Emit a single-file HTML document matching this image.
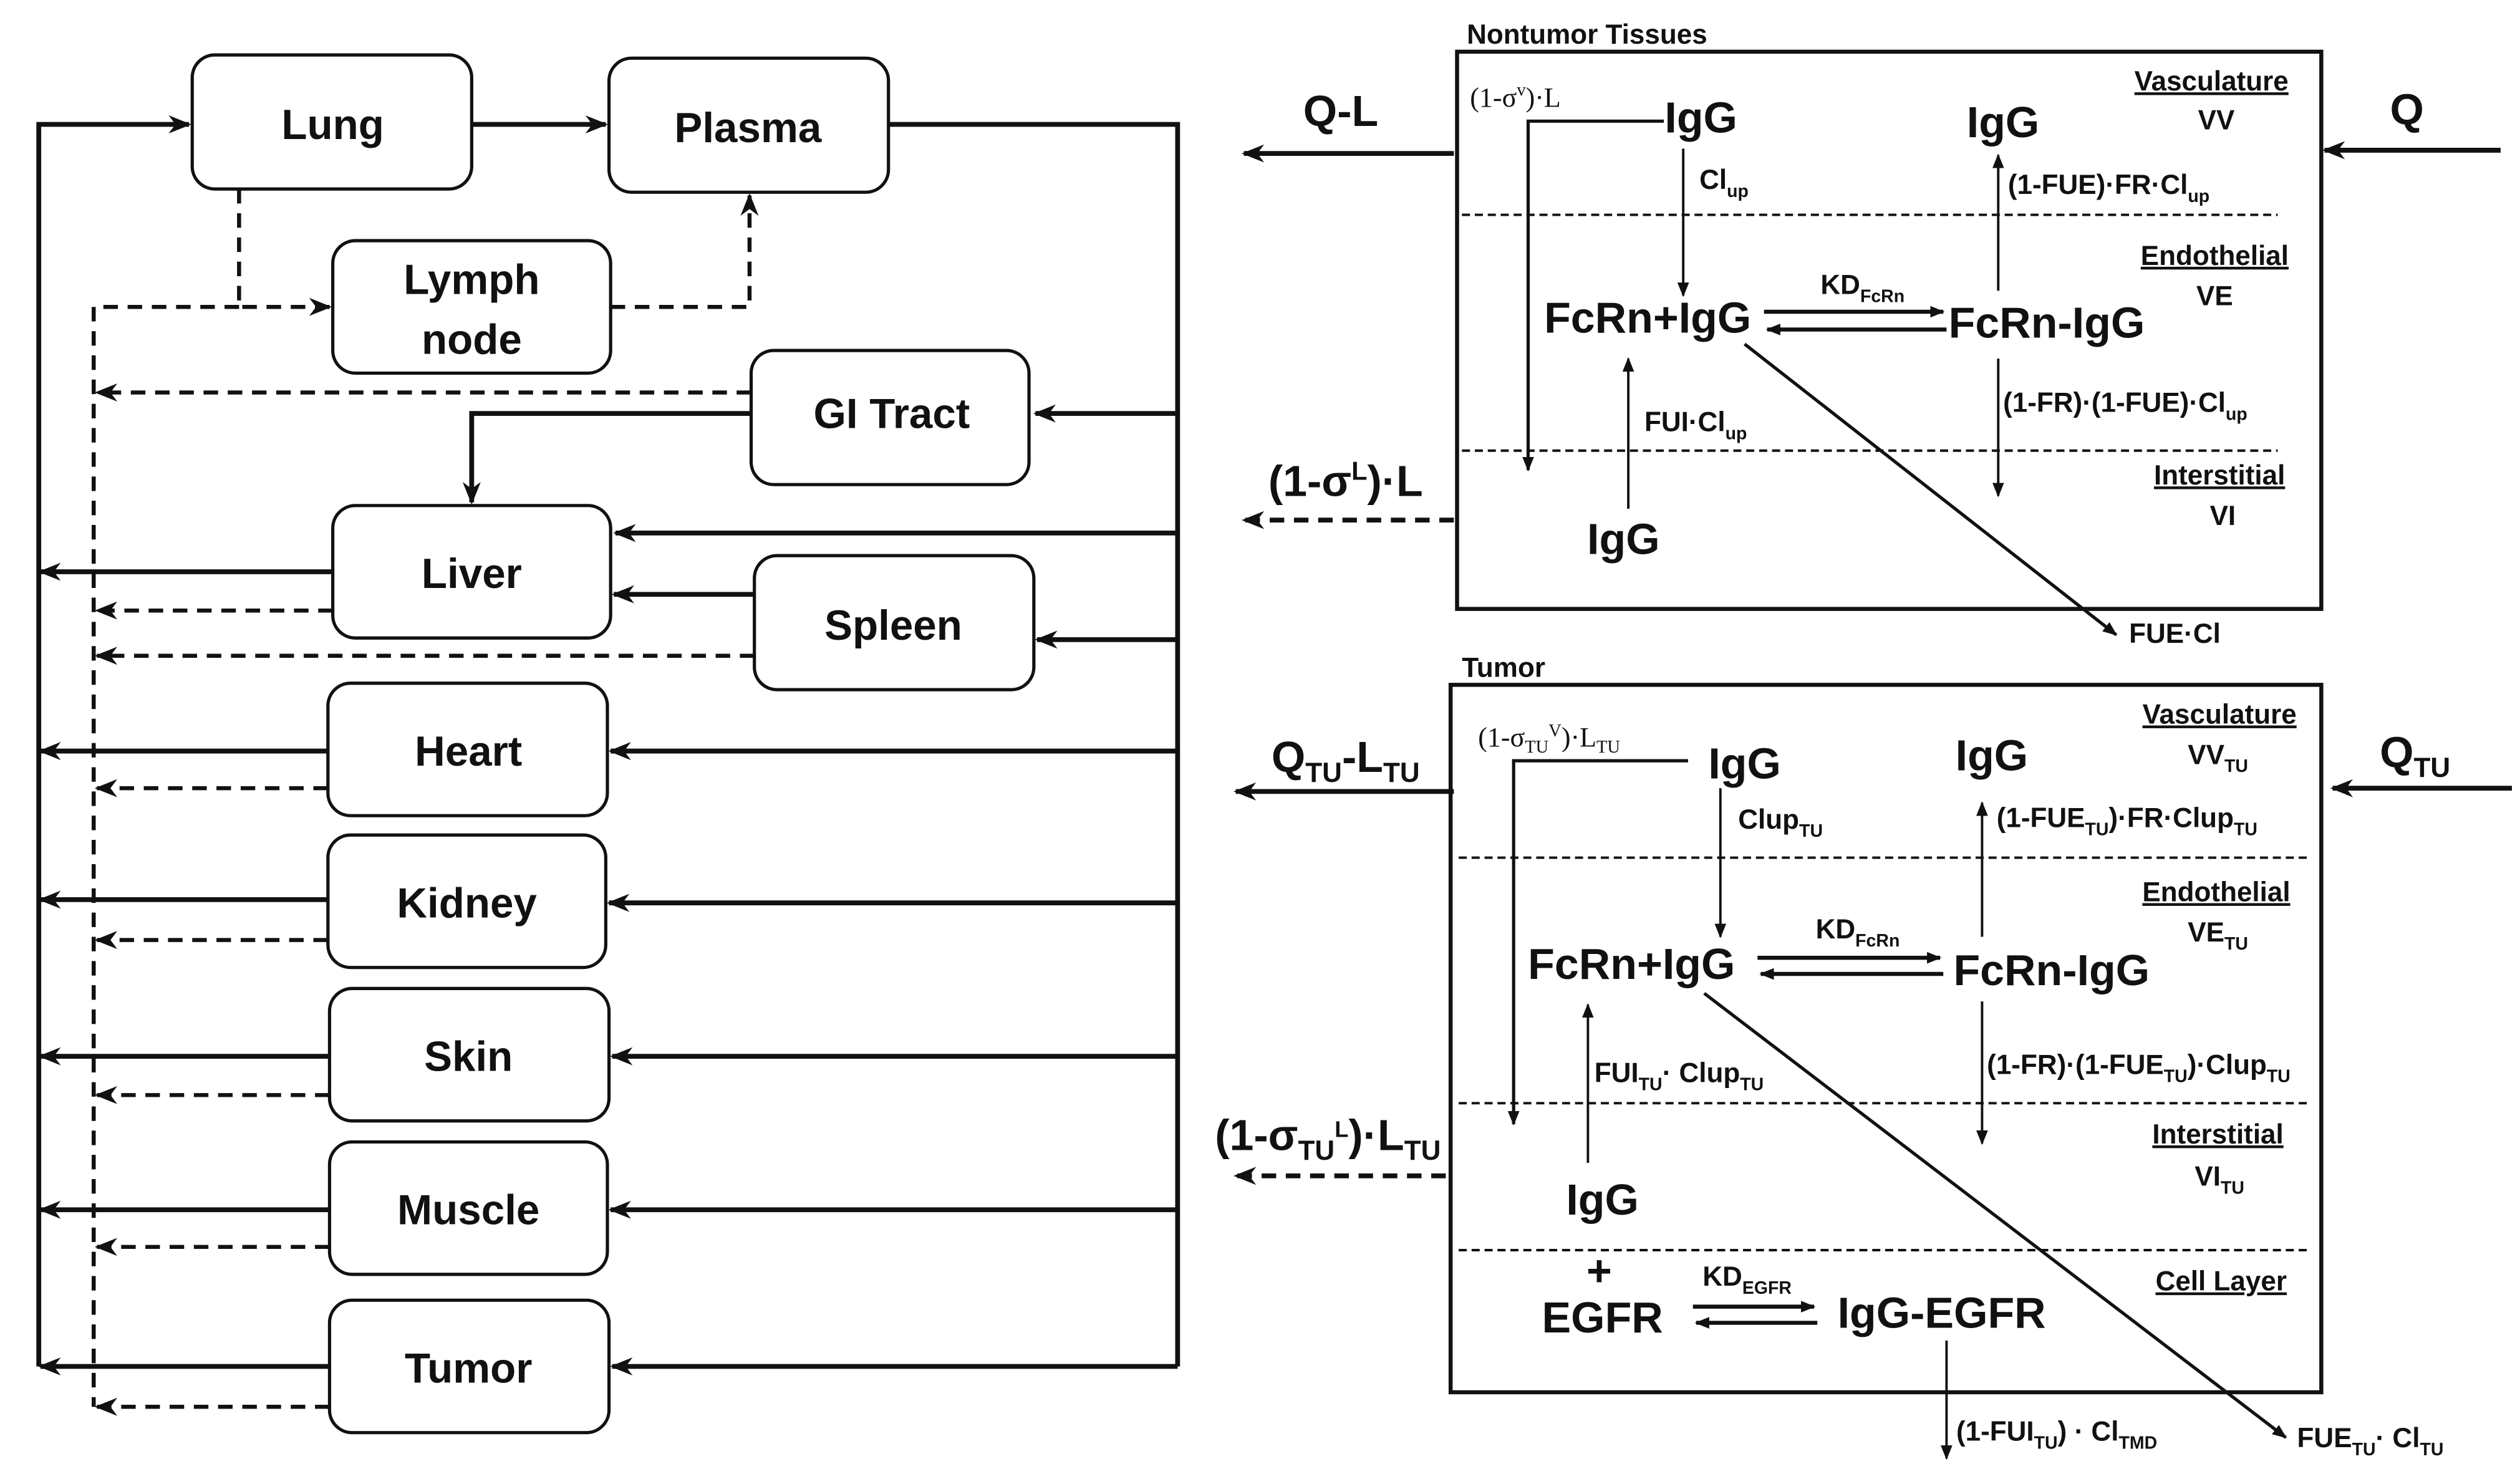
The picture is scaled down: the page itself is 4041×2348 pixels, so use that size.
<!DOCTYPE html>
<html><head><meta charset="utf-8"><style>
html,body{margin:0;padding:0;background:#fff}
svg{display:block}
text{font-family:"Liberation Sans Narrow","Liberation Sans",sans-serif;font-weight:bold;fill:#111}
.n{font-size:26px;text-anchor:middle}
.b{font-size:27px;text-anchor:middle}
.s{font-size:17px}
.r{font-size:17px;text-anchor:middle}
.serif{font-family:"Liberation Serif",serif;font-weight:normal}
</style></head><body>
<svg width="4041" height="2348" viewBox="0 0 1560 906.4" xmlns="http://www.w3.org/2000/svg">
<defs>
<marker id="a" viewBox="0 0 10 10" refX="9" refY="5" markerWidth="5" markerHeight="5" orient="auto-start-reverse" markerUnits="userSpaceOnUse"><path d="M0,0 L10,5 L0,10 z" fill="#111"/></marker>
<marker id="ab" viewBox="0 0 10 10" refX="9" refY="5" markerWidth="14" markerHeight="14" orient="auto" markerUnits="userSpaceOnUse"><path d="M0,1 L10,5 L0,9 L3,5 z" fill="#111"/></marker>
<marker id="as" viewBox="0 0 10 10" refX="9" refY="5" markerWidth="9" markerHeight="9" orient="auto" markerUnits="userSpaceOnUse"><path d="M0,1 L10,5 L0,9 z" fill="#111"/></marker>
</defs>
<g fill="#fff" stroke="#111" stroke-width="2">
<rect x="119" y="34" width="173" height="83" rx="14"/>
<rect x="377" y="36" width="173" height="83" rx="14"/>
<rect x="206" y="149" width="172" height="82" rx="14"/>
<rect x="465" y="217" width="172" height="83" rx="14"/>
<rect x="206" y="313" width="172" height="82" rx="14"/>
<rect x="467" y="344" width="173" height="83" rx="14"/>
<rect x="203" y="423" width="173" height="82" rx="14"/>
<rect x="203" y="517" width="172" height="82" rx="14"/>
<rect x="204" y="612" width="173" height="82" rx="14"/>
<rect x="204" y="707" width="172" height="82" rx="14"/>
<rect x="204" y="805" width="173" height="82" rx="14"/>
</g>
<g class="n">
<text x="206" y="86" class="n">Lung</text>
<text x="463" y="88" class="n">Plasma</text>
<text x="292" y="182" class="n">Lymph</text>
<text x="292" y="219" class="n">node</text>
<text x="552" y="265" class="n">GI Tract</text>
<text x="292" y="364" class="n">Liver</text>
<text x="553" y="396" class="n">Spleen</text>
<text x="290" y="474" class="n">Heart</text>
<text x="289" y="568" class="n">Kidney</text>
<text x="290" y="663" class="n">Skin</text>
<text x="290" y="758" class="n">Muscle</text>
<text x="290" y="856" class="n">Tumor</text>
</g>
<g stroke="#111" stroke-width="3" fill="none">
<line x1="292" y1="77" x2="375" y2="77" marker-end="url(#ab)"/>
<polyline points="550,77 729,77 729,846"/>
<line x1="729" y1="256" x2="641" y2="256" marker-end="url(#ab)"/>
<line x1="729" y1="330" x2="381" y2="330" marker-end="url(#ab)"/>
<line x1="729" y1="396" x2="642" y2="396" marker-end="url(#ab)"/>
<line x1="729" y1="465" x2="378" y2="465" marker-end="url(#ab)"/>
<line x1="729" y1="559" x2="377" y2="559" marker-end="url(#ab)"/>
<line x1="729" y1="654" x2="379" y2="654" marker-end="url(#ab)"/>
<line x1="729" y1="749" x2="378" y2="749" marker-end="url(#ab)"/>
<line x1="729" y1="846" x2="379" y2="846" marker-end="url(#ab)"/>
<line x1="467" y1="368" x2="380" y2="368" marker-end="url(#ab)"/>
<polyline points="465,256 292,256 292,311" marker-end="url(#ab)"/>
<polyline points="24,846 24,77 117,77" marker-end="url(#ab)"/>
<line x1="206" y1="354" x2="25" y2="354" marker-end="url(#ab)"/>
<line x1="203" y1="465" x2="25" y2="465" marker-end="url(#ab)"/>
<line x1="203" y1="557" x2="25" y2="557" marker-end="url(#ab)"/>
<line x1="204" y1="654" x2="25" y2="654" marker-end="url(#ab)"/>
<line x1="204" y1="749" x2="25" y2="749" marker-end="url(#ab)"/>
<line x1="204" y1="846" x2="25" y2="846" marker-end="url(#ab)"/>
</g>
<g stroke="#111" stroke-width="2.5" fill="none" stroke-dasharray="9,6">
<polyline points="148,117 148,190 204,190" marker-end="url(#ab)"/>
<polyline points="378,190 464,190 464,121" marker-end="url(#ab)"/>
<line x1="58" y1="190" x2="58" y2="871"/>
<line x1="148" y1="190" x2="58" y2="190"/>
<line x1="465" y1="243" x2="60" y2="243" marker-end="url(#ab)"/>
<line x1="206" y1="378" x2="60" y2="378" marker-end="url(#ab)"/>
<line x1="467" y1="406" x2="60" y2="406" marker-end="url(#ab)"/>
<line x1="203" y1="488" x2="60" y2="488" marker-end="url(#ab)"/>
<line x1="203" y1="582" x2="60" y2="582" marker-end="url(#ab)"/>
<line x1="204" y1="678" x2="60" y2="678" marker-end="url(#ab)"/>
<line x1="204" y1="772" x2="60" y2="772" marker-end="url(#ab)"/>
<line x1="204" y1="871" x2="60" y2="871" marker-end="url(#ab)"/>
</g>

<!-- Nontumor -->
<text x="908" y="27" class="s">Nontumor Tissues</text>
<rect x="902" y="32" width="535" height="345" fill="none" stroke="#111" stroke-width="2.5"/>
<g stroke="#111" stroke-width="1.5" stroke-dasharray="5,3"><line x1="905" y1="133" x2="1410" y2="133"/><line x1="905" y1="279" x2="1410" y2="279"/></g>
<g class="r">
<text x="1369" y="56" class="r" text-decoration="underline">Vasculature</text><text x="1372" y="80" class="r">VV</text>
<text x="1371" y="164" class="r" text-decoration="underline">Endothelial</text><text x="1371" y="189" class="r">VE</text>
<text x="1374" y="300" class="r" text-decoration="underline">Interstitial</text><text x="1376" y="325" class="r">VI</text>
</g>
<g stroke="#111" stroke-width="3" fill="none">
<line x1="900" y1="95" x2="770" y2="95" marker-end="url(#ab)"/>
<line x1="1548" y1="93" x2="1439" y2="93" marker-end="url(#ab)"/>
<line x1="900" y1="322" x2="770" y2="322" marker-end="url(#ab)" stroke-dasharray="9,6"/>
<line x1="900" y1="490" x2="765" y2="490" marker-end="url(#ab)"/>
<line x1="1555" y1="488" x2="1444" y2="488" marker-end="url(#ab)"/>
<line x1="895" y1="728" x2="765" y2="728" marker-end="url(#ab)" stroke-dasharray="9,6"/>
</g>
<text x="830" y="78" class="b">Q-L</text>
<text x="1490" y="77" class="b">Q</text>
<text x="833" y="307" class="b">(1-σ<tspan font-size="16" dy="-10">L</tspan><tspan dy="10">)·L</tspan></text>
<text x="910" y="66" class="s serif">(1-σ<tspan font-size="11" dy="-7">v</tspan><tspan dy="7">)·L</tspan></text>
<g stroke="#111" fill="none">
<polyline points="1030,75 946,75 946,291" stroke-width="2" marker-end="url(#as)"/>
<line x1="1042" y1="92" x2="1042" y2="183" stroke-width="1.5" marker-end="url(#as)"/>
<line x1="1237" y1="180" x2="1237" y2="96" stroke-width="1.5" marker-end="url(#as)"/>
<line x1="1237" y1="222" x2="1237" y2="307" stroke-width="1.5" marker-end="url(#as)"/>
<line x1="1008" y1="315" x2="1008" y2="222" stroke-width="1.5" marker-end="url(#as)"/>
<line x1="1092" y1="193" x2="1203" y2="193" stroke-width="2.5" marker-end="url(#as)"/>
<line x1="1205" y1="204" x2="1094" y2="204" stroke-width="2.5" marker-end="url(#as)"/>
<line x1="1080" y1="213" x2="1310" y2="393" stroke-width="2" marker-end="url(#as)"/>
</g>
<text x="1053" y="82" class="b">IgG</text>
<text x="1240" y="85" class="b">IgG</text>
<text x="1052" y="117" class="s">Cl<tspan font-size="11" dy="5">up</tspan></text>
<text x="1020" y="206" class="b">FcRn+IgG</text>
<text x="1267" y="209" class="b">FcRn-IgG</text>
<text x="1127" y="182" class="s">KD<tspan font-size="11" dy="5">FcRn</tspan></text>
<text x="1243" y="120" class="s">(1-FUE)·FR·Cl<tspan font-size="11" dy="5">up</tspan></text>
<text x="1240" y="255" class="s">(1-FR)·(1-FUE)·Cl<tspan font-size="11" dy="5">up</tspan></text>
<text x="1018" y="267" class="s">FUI·Cl<tspan font-size="11" dy="5">up</tspan></text>
<text x="1005" y="343" class="b">IgG</text>
<text x="1318" y="398" class="s">FUE·Cl</text>

<!-- Tumor -->
<text x="905" y="419" class="s">Tumor</text>
<rect x="898" y="424" width="539" height="438" fill="none" stroke="#111" stroke-width="2.5"/>
<g stroke="#111" stroke-width="1.5" stroke-dasharray="5,3"><line x1="903" y1="531" x2="1430" y2="531"/><line x1="903" y1="683" x2="1430" y2="683"/><line x1="903" y1="774" x2="1430" y2="774"/></g>
<g class="r">
<text x="1374" y="448" class="r" text-decoration="underline">Vasculature</text><text x="1373" y="473" class="r">VV<tspan font-size="11" dy="5">TU</tspan></text>
<text x="1372" y="558" class="r" text-decoration="underline">Endothelial</text><text x="1373" y="583" class="r">VE<tspan font-size="11" dy="5">TU</tspan></text>
<text x="1373" y="708" class="r" text-decoration="underline">Interstitial</text><text x="1374" y="734" class="r">VI<tspan font-size="11" dy="5">TU</tspan></text>
<text x="1375" y="799" class="r" text-decoration="underline">Cell Layer</text>
</g>
<text x="833" y="478" class="b">Q<tspan font-size="17" dy="6">TU</tspan><tspan dy="-6">-L</tspan><tspan font-size="17" dy="6">TU</tspan></text>
<text x="1495" y="475" class="b">Q<tspan font-size="17" dy="6">TU</tspan></text>
<text x="822" y="712" class="b">(1-σ<tspan font-size="17" dy="6">TU</tspan><tspan font-size="14" dy="-14">L</tspan><tspan dy="8">)·L</tspan><tspan font-size="17" dy="6">TU</tspan></text>
<text x="915" y="462" class="s serif">(1-σ<tspan font-size="11" dy="4">TU</tspan><tspan font-size="11" dy="-10">V</tspan><tspan dy="6">)·L</tspan><tspan font-size="11" dy="4">TU</tspan></text>
<g stroke="#111" fill="none">
<polyline points="1045,471 937,471 937,696" stroke-width="2" marker-end="url(#as)"/>
<line x1="1065" y1="488" x2="1065" y2="580" stroke-width="1.5" marker-end="url(#as)"/>
<line x1="1227" y1="580" x2="1227" y2="497" stroke-width="1.5" marker-end="url(#as)"/>
<line x1="1227" y1="620" x2="1227" y2="708" stroke-width="1.5" marker-end="url(#as)"/>
<line x1="983" y1="720" x2="983" y2="622" stroke-width="1.5" marker-end="url(#as)"/>
<line x1="1088" y1="593" x2="1201" y2="593" stroke-width="2.5" marker-end="url(#as)"/>
<line x1="1203" y1="603" x2="1090" y2="603" stroke-width="2.5" marker-end="url(#as)"/>
<line x1="1048" y1="809" x2="1123" y2="809" stroke-width="2.5" marker-end="url(#as)"/>
<line x1="1125" y1="819" x2="1050" y2="819" stroke-width="2.5" marker-end="url(#as)"/>
<line x1="1205" y1="830" x2="1205" y2="903" stroke-width="1.5" marker-end="url(#as)"/>
<line x1="1055" y1="615" x2="1415" y2="890" stroke-width="2" marker-end="url(#as)"/>
</g>
<text x="1080" y="482" class="b">IgG</text>
<text x="1233" y="477" class="b">IgG</text>
<text x="1076" y="513" class="s">Clup<tspan font-size="11" dy="5">TU</tspan></text>
<text x="1010" y="606" class="b">FcRn+IgG</text>
<text x="1270" y="610" class="b">FcRn-IgG</text>
<text x="1124" y="581" class="s">KD<tspan font-size="11" dy="5">FcRn</tspan></text>
<text x="1236" y="512" class="s">(1-FUE<tspan font-size="11" dy="5">TU</tspan><tspan dy="-5">)·FR·Clup</tspan><tspan font-size="11" dy="5">TU</tspan></text>
<text x="1230" y="665" class="s">(1-FR)·(1-FUE<tspan font-size="11" dy="5">TU</tspan><tspan dy="-5">)·Clup</tspan><tspan font-size="11" dy="5">TU</tspan></text>
<text x="987" y="670" class="s">FUI<tspan font-size="11" dy="5">TU</tspan><tspan dy="-5">· Clup</tspan><tspan font-size="11" dy="5">TU</tspan></text>
<text x="992" y="752" class="b">IgG</text>
<text x="990" y="796" class="b">+</text>
<text x="992" y="825" class="b">EGFR</text>
<text x="1054" y="796" class="s">KD<tspan font-size="11" dy="5">EGFR</tspan></text>
<text x="1202" y="822" class="b">IgG-EGFR</text>
<text x="1211" y="892" class="s">(1-FUI<tspan font-size="11" dy="5">TU</tspan><tspan dy="-5">) · Cl</tspan><tspan font-size="11" dy="5">TMD</tspan></text>
<text x="1422" y="896" class="s">FUE<tspan font-size="11" dy="5">TU</tspan><tspan dy="-5">· Cl</tspan><tspan font-size="11" dy="5">TU</tspan></text>
</svg>
</body></html>
